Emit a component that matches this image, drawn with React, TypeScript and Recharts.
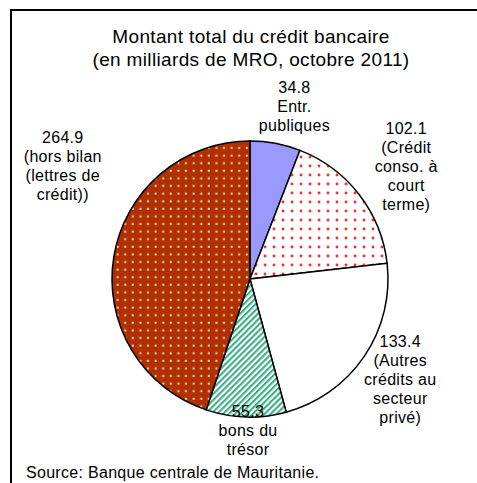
import React from 'react';
import { PieChart, Pie, Cell } from 'recharts';

const categories = ['Entr. publiques', 'Crédit conso. à court terme', 'Autres crédits au secteur privé', 'bons du trésor', 'hors bilan (lettres de crédit)'];
const values = [34.8, 102.1, 133.4, 55.3, 264.9];
const labelLines = [
  ['34.8', 'Entr.', 'publiques'],
  ['102.1', '(Crédit', 'conso. à', 'court', 'terme)'],
  ['133.4', '(Autres', 'crédits au', 'secteur', 'privé)'],
  ['55.3', 'bons du', 'trésor'],
  ['264.9', '(hors bilan', '(lettres de', 'crédit))'],
];
const titleLines = ['Montant total du crédit bancaire', '(en milliards de MRO, octobre 2011)'];
const sourceText = 'Source: Banque centrale de Mauritanie.';

const data = categories.map((name, i) => ({ name, value: values[i] }));

const fills = ['#9999FF', 'url(#pinkDots)', '#FFFFFF', 'url(#greenHatch)', 'url(#redDots)'];
const labelOffsets = [
  [19, -37],
  [47, -29],
  [36, 23],
  [2, 13],
  [-51, -91],
];

const FONT = '"Liberation Sans", Arial, sans-serif';
const RADIAN = Math.PI / 180;
const LINE_H = 19;

const renderLabel = (props: any) => {
  const { cx, cy, midAngle, outerRadius, index } = props;
  const x0 = cx + outerRadius * Math.cos(-midAngle * RADIAN);
  const y0 = cy + outerRadius * Math.sin(-midAngle * RADIAN);
  const [dx, dy] = labelOffsets[index];
  const lines = labelLines[index];
  const x = x0 + dx;
  const yStart = y0 + dy - ((lines.length - 1) * LINE_H) / 2;
  return (
    <text
      key={`lbl-${index}`}
      x={x}
      y={yStart}
      textAnchor="middle"
      dominantBaseline="central"
      fontFamily={FONT}
      fontSize={16}
      letterSpacing={0.3}
      fill="#000"
    >
      {lines.map((l, i) => (
        <tspan key={i} x={x} y={yStart + i * LINE_H}>
          {l}
        </tspan>
      ))}
    </text>
  );
};

export default function App() {
  return (
    <div style={{ position: 'absolute', left: 0, top: 0, width: 477, height: 483, background: '#fff', overflow: 'hidden' }}>
      <div
        style={{
          position: 'absolute',
          left: 10,
          top: 9,
          width: 490,
          height: 490,
          border: '2px solid #000',
          boxSizing: 'border-box',
        }}
      />
      <div style={{ position: 'absolute', left: 0, top: 0 }}>
        <PieChart width={477} height={483} margin={{ top: 0, right: 0, bottom: 0, left: 0 }}>
          <defs>
            <pattern id="pinkDots" width="9" height="9" patternUnits="userSpaceOnUse">
              <rect width="9" height="9" fill="#ffffff" />
              <circle cx="4" cy="4" r="1.4" fill="#ff2a2a" />
            </pattern>
            <pattern id="redDots" width="7.6" height="7.6" patternUnits="userSpaceOnUse">
              <rect width="7.6" height="7.6" fill="#B03000" />
              <rect x="2.6" y="2.6" width="2" height="2" fill="#f6d8c8" />
            </pattern>
            <pattern id="greenHatch" width="4.2" height="4.2" patternUnits="userSpaceOnUse" patternTransform="rotate(45)">
              <rect width="4.2" height="4.2" fill="#ffffff" />
              <rect width="2.1" height="4.2" fill="#3DAE86" />
            </pattern>
          </defs>
          <Pie
            data={data}
            dataKey="value"
            nameKey="name"
            cx={250}
            cy={279}
            outerRadius={138}
            startAngle={90}
            endAngle={-270}
            stroke="#000"
            strokeWidth={1.5}
            isAnimationActive={false}
            label={renderLabel}
            labelLine={false}
          >
            {data.map((d, i) => (
              <Cell key={d.name} fill={fills[i]} />
            ))}
          </Pie>
        </PieChart>
      </div>
      <div
        style={{
          position: 'absolute',
          left: 0,
          top: 25,
          width: 502,
          textAlign: 'center',
          fontFamily: FONT,
          fontSize: 19,
          letterSpacing: 0.35,
          lineHeight: '23px',
          color: '#000',
        }}
      >
        {titleLines.map((t) => (
          <div key={t}>{t}</div>
        ))}
      </div>
      <div
        style={{
          position: 'absolute',
          left: 26,
          top: 463,
          fontFamily: FONT,
          fontSize: 16,
          letterSpacing: 0.3,
          lineHeight: '20px',
          color: '#000',
          whiteSpace: 'nowrap',
        }}
      >
        {sourceText}
      </div>
    </div>
  );
}
